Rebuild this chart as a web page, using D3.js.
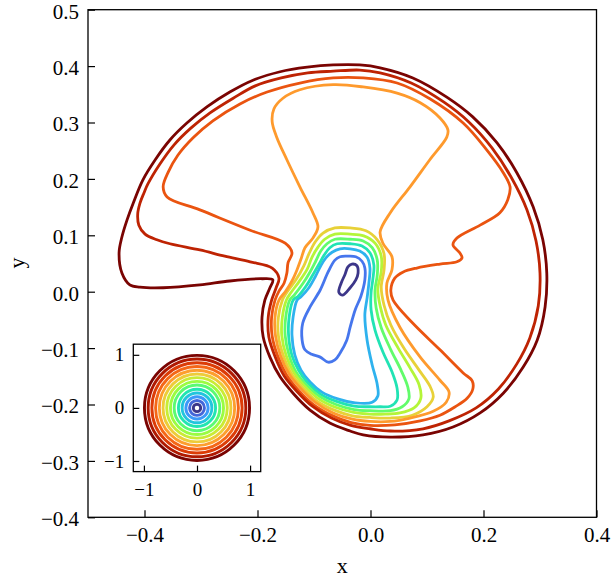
<!DOCTYPE html>
<html>
<head>
<meta charset="utf-8">
<script src="https://cdn.jsdelivr.net/npm/d3@7"></script>
<style>
  body { margin: 0; background: #fff; }
  text { font-family: "Liberation Serif", "Times New Roman", serif; fill: #000; }
</style>
</head>
<body>
<script>
// contour levels (fraction of the colour range), inner -> outer
const mainLevels = [0.05, 0.145, 0.24, 0.335, 0.43, 0.525, 0.62, 0.715, 0.81, 0.905, 1.0];

// contour lines, [x, y] in data units
const lineNavy = [[-0.033,0.049],[-0.024,0.046],[-0.022,0.033],[-0.026,0.021],[-0.036,0.007],[-0.049,-0.006],[-0.056,-0.001],[-0.052,0.015],[-0.045,0.031],[-0.040,0.044]];
const lineBlue = [[-0.042,0.063],[-0.026,0.062],[-0.015,0.054],[-0.010,0.042],[-0.010,0.021],[-0.017,-0.008],[-0.027,-0.032],[-0.036,-0.063],[-0.042,-0.086],[-0.054,-0.109],[-0.063,-0.121],[-0.075,-0.125],[-0.089,-0.116],[-0.104,-0.111],[-0.116,-0.103],[-0.121,-0.086],[-0.120,-0.056],[-0.107,-0.027],[-0.089,0.003],[-0.075,0.035],[-0.063,0.056],[-0.054,0.062]];
const lineCyan = [[-0.054,0.076],[-0.036,0.076],[-0.019,0.072],[-0.006,0.061],[-0.001,0.042],[-0.003,0.014],[-0.006,-0.011],[-0.010,-0.041],[-0.006,-0.086],[0.003,-0.130],[0.012,-0.165],[0.013,-0.185],[0.003,-0.196],[-0.027,-0.197],[-0.058,-0.190],[-0.086,-0.178],[-0.107,-0.160],[-0.123,-0.139],[-0.134,-0.112],[-0.139,-0.077],[-0.137,-0.045],[-0.130,-0.015],[-0.123,-0.009],[-0.109,0.007],[-0.098,0.026],[-0.088,0.046],[-0.079,0.060],[-0.068,0.070]];
const lineTeal = [[-0.059,0.085],[-0.036,0.085],[-0.015,0.081],[-0.001,0.069],[0.006,0.047],[0.004,0.021],[0.001,-0.002],[0.001,-0.032],[0.008,-0.068],[0.022,-0.107],[0.038,-0.142],[0.047,-0.171],[0.047,-0.192],[0.035,-0.203],[0.017,-0.204],[-0.001,-0.204],[-0.029,-0.203],[-0.059,-0.195],[-0.088,-0.182],[-0.111,-0.162],[-0.127,-0.140],[-0.139,-0.113],[-0.145,-0.077],[-0.144,-0.045],[-0.137,-0.015],[-0.128,-0.008],[-0.114,0.010],[-0.102,0.030],[-0.091,0.049],[-0.082,0.065],[-0.072,0.078]];
const lineGreen = [[-0.063,0.093],[-0.036,0.093],[-0.013,0.090],[0.003,0.078],[0.012,0.056],[0.012,0.030],[0.008,0.003],[0.010,-0.029],[0.019,-0.064],[0.036,-0.103],[0.054,-0.139],[0.066,-0.169],[0.068,-0.190],[0.056,-0.204],[0.035,-0.211],[-0.001,-0.211],[-0.029,-0.209],[-0.061,-0.200],[-0.091,-0.185],[-0.114,-0.165],[-0.132,-0.142],[-0.144,-0.113],[-0.151,-0.078],[-0.150,-0.045],[-0.143,-0.015],[-0.135,-0.006],[-0.120,0.014],[-0.107,0.035],[-0.097,0.054],[-0.088,0.072],[-0.077,0.085]];
const lineLime = [[-0.063,0.102],[-0.036,0.102],[-0.012,0.099],[0.008,0.086],[0.019,0.063],[0.019,0.035],[0.013,0.005],[0.017,-0.025],[0.027,-0.059],[0.049,-0.100],[0.070,-0.135],[0.086,-0.165],[0.089,-0.189],[0.077,-0.206],[0.052,-0.215],[0.026,-0.217],[-0.001,-0.217],[-0.030,-0.214],[-0.062,-0.205],[-0.093,-0.189],[-0.117,-0.167],[-0.136,-0.143],[-0.149,-0.114],[-0.157,-0.078],[-0.156,-0.045],[-0.149,-0.015],[-0.141,-0.002],[-0.127,0.017],[-0.112,0.040],[-0.104,0.060],[-0.093,0.079],[-0.081,0.093]];
const lineYellow = [[-0.063,0.113],[-0.036,0.113],[-0.008,0.108],[0.012,0.092],[0.024,0.067],[0.024,0.039],[0.019,0.008],[0.024,-0.024],[0.036,-0.059],[0.059,-0.100],[0.086,-0.139],[0.105,-0.167],[0.111,-0.187],[0.100,-0.204],[0.074,-0.219],[0.035,-0.224],[-0.001,-0.223],[-0.032,-0.220],[-0.064,-0.210],[-0.096,-0.193],[-0.121,-0.169],[-0.140,-0.145],[-0.154,-0.114],[-0.163,-0.078],[-0.163,-0.045],[-0.156,-0.015],[-0.148,-0.001],[-0.132,0.021],[-0.118,0.046],[-0.109,0.067],[-0.098,0.088],[-0.084,0.104]];
const lineGold = [[-0.155,0.343],[-0.125,0.358],[-0.066,0.367],[-0.013,0.363],[0.047,0.352],[0.088,0.335],[0.123,0.308],[0.137,0.287],[0.135,0.274],[0.105,0.234],[0.070,0.186],[0.035,0.140],[0.017,0.106],[0.022,0.086],[0.038,0.062],[0.038,0.039],[0.029,0.015],[0.031,-0.015],[0.052,-0.063],[0.088,-0.116],[0.123,-0.157],[0.139,-0.178],[0.134,-0.196],[0.111,-0.212],[0.070,-0.224],[0.035,-0.230],[-0.001,-0.230],[-0.032,-0.226],[-0.066,-0.215],[-0.098,-0.196],[-0.124,-0.171],[-0.144,-0.146],[-0.159,-0.114],[-0.168,-0.079],[-0.169,-0.045],[-0.162,-0.015],[-0.150,0.001],[-0.139,0.019],[-0.130,0.039],[-0.123,0.058],[-0.116,0.078],[-0.102,0.095],[-0.093,0.115],[-0.102,0.140],[-0.125,0.186],[-0.148,0.234],[-0.166,0.274],[-0.174,0.301],[-0.171,0.324]];
const lineOrange = [[-0.367,0.186],[-0.358,0.212],[-0.341,0.242],[-0.314,0.273],[-0.279,0.303],[-0.231,0.333],[-0.183,0.354],[-0.125,0.370],[-0.066,0.379],[-0.013,0.379],[0.047,0.370],[0.105,0.342],[0.164,0.299],[0.206,0.251],[0.235,0.211],[0.247,0.186],[0.243,0.163],[0.229,0.140],[0.194,0.118],[0.153,0.095],[0.146,0.083],[0.158,0.069],[0.162,0.060],[0.153,0.053],[0.123,0.049],[0.082,0.042],[0.058,0.035],[0.043,0.024],[0.036,0.003],[0.040,-0.015],[0.075,-0.056],[0.123,-0.103],[0.164,-0.144],[0.180,-0.158],[0.181,-0.173],[0.171,-0.189],[0.150,-0.204],[0.123,-0.219],[0.088,-0.229],[0.043,-0.236],[-0.001,-0.237],[-0.034,-0.232],[-0.067,-0.220],[-0.101,-0.200],[-0.128,-0.174],[-0.149,-0.147],[-0.164,-0.115],[-0.174,-0.079],[-0.175,-0.045],[-0.169,-0.015],[-0.162,0.001],[-0.153,0.015],[-0.148,0.033],[-0.146,0.051],[-0.139,0.069],[-0.151,0.086],[-0.213,0.109],[-0.302,0.145],[-0.360,0.168]];
const lineRed = [[-0.174,0.042],[-0.213,0.053],[-0.258,0.063],[-0.302,0.074],[-0.355,0.085],[-0.378,0.092],[-0.399,0.102],[-0.410,0.118],[-0.412,0.138],[-0.408,0.157],[-0.401,0.175],[-0.394,0.191],[-0.373,0.226],[-0.348,0.260],[-0.318,0.290],[-0.284,0.317],[-0.243,0.343],[-0.204,0.365],[-0.158,0.379],[-0.111,0.388],[-0.066,0.391],[-0.019,0.393],[0.017,0.388],[0.072,0.370],[0.130,0.336],[0.174,0.301],[0.215,0.255],[0.249,0.203],[0.277,0.145],[0.293,0.090],[0.300,0.033],[0.297,-0.025],[0.282,-0.082],[0.259,-0.128],[0.226,-0.173],[0.187,-0.206],[0.139,-0.229],[0.093,-0.243],[0.035,-0.247],[-0.001,-0.243],[-0.035,-0.237],[-0.069,-0.224],[-0.103,-0.203],[-0.131,-0.176],[-0.153,-0.149],[-0.169,-0.115],[-0.180,-0.080],[-0.181,-0.045],[-0.175,-0.015],[-0.167,0.007],[-0.162,0.024]];
const lineDarkRed = [[-0.173,0.021],[-0.192,0.023],[-0.249,0.019],[-0.302,0.012],[-0.367,0.007],[-0.408,0.008],[-0.426,0.012],[-0.440,0.033],[-0.445,0.069],[-0.440,0.097],[-0.431,0.127],[-0.420,0.157],[-0.403,0.198],[-0.381,0.234],[-0.355,0.269],[-0.325,0.299],[-0.289,0.328],[-0.249,0.354],[-0.208,0.375],[-0.160,0.390],[-0.112,0.398],[-0.066,0.402],[-0.019,0.402],[0.017,0.397],[0.075,0.379],[0.135,0.345],[0.181,0.310],[0.224,0.264],[0.259,0.211],[0.288,0.150],[0.305,0.092],[0.312,0.033],[0.309,-0.027],[0.295,-0.086],[0.270,-0.134],[0.235,-0.180],[0.194,-0.215],[0.146,-0.240],[0.093,-0.254],[0.035,-0.258],[-0.013,-0.254],[-0.036,-0.247],[-0.072,-0.233],[-0.107,-0.210],[-0.137,-0.180],[-0.160,-0.151],[-0.178,-0.116],[-0.190,-0.080],[-0.192,-0.045],[-0.187,-0.015],[-0.178,0.007]];

// inset: concentric reference circles
const insetRadii = [0.07, 0.14, 0.21, 0.28, 0.35, 0.43, 0.50, 0.57, 0.64, 0.71, 0.78, 0.85, 0.92, 0.99];
const insetLevels = [0.05, 0.12, 0.20, 0.27, 0.34, 0.42, 0.49, 0.56, 0.63, 0.71, 0.78, 0.85, 0.93, 1.0];

// tick values
const xTicks = [-0.4, -0.2, 0.0, 0.2, 0.4];
const yTicks = [-0.4, -0.3, -0.2, -0.1, 0.0, 0.1, 0.2, 0.3, 0.4, 0.5];
const insetTicks = [-1, 0, 1];

const lines = [lineNavy, lineBlue, lineCyan, lineTeal, lineGreen, lineLime, lineYellow, lineGold, lineOrange, lineRed, lineDarkRed];
const contours = lines.map((pts, i) => ({level: mainLevels[i], pts: pts}));

// turbo colour map
const turbo = d3.piecewise(d3.interpolateRgb, ["#30123b","#4145ab","#4675ed","#39a2fc","#1bcfd4","#24eca6","#61fc6c","#a4fc3b","#d1e834","#f3c63a","#fe9b2d","#f36315","#d93806","#b11901","#7a0402"]);

const serif = '"Liberation Serif", "Times New Roman", serif';
const width = 611, height = 580;
const margin = {left: 88, top: 9.7};
const plotW = 508.5, plotH = 507.6;

const svg = d3.select('body').append('svg')
    .attr('width', width)
    .attr('height', height);

const xScale = d3.scaleLinear().domain([-0.5, 0.4]).range([margin.left, margin.left + plotW]);
const yScale = d3.scaleLinear().domain([-0.4, 0.5]).range([margin.top + plotH, margin.top]);

const line = d3.line()
    .x(d => xScale(d[0]))
    .y(d => yScale(d[1]))
    .curve(d3.curveCatmullRomClosed.alpha(0.5));

svg.append('g').selectAll('path')
    .data(contours)
    .enter().append('path')
    .attr('d', d => line(d.pts))
    .attr('fill', 'none')
    .attr('stroke', d => turbo(d.level))
    .attr('stroke-width', 2.8)
    .attr('stroke-linejoin', 'round');

// axes, ticks pointing inward
const fmt1 = d3.format('.1f');
svg.append('g')
    .attr('transform', 'translate(0,' + (margin.top + plotH) + ')')
    .call(d3.axisBottom(xScale).tickValues(xTicks).tickSizeInner(-7).tickSizeOuter(0).tickPadding(10).tickFormat(fmt1))
    .call(g => g.select('.domain').remove())
    .attr('font-size', 21)
    .attr('font-family', serif);

svg.append('g')
    .attr('transform', 'translate(' + margin.left + ',0)')
    .call(d3.axisLeft(yScale).tickValues(yTicks).tickSizeInner(-7).tickSizeOuter(0).tickPadding(9).tickFormat(fmt1))
    .call(g => g.select('.domain').remove())
    .attr('font-size', 21)
    .attr('font-family', serif)
    .call(g => g.selectAll('text').attr('dy', '0.4em'));

svg.selectAll('.tick line').attr('stroke-width', 1.2);

svg.append('rect')
    .attr('x', margin.left).attr('y', margin.top)
    .attr('width', plotW).attr('height', plotH)
    .attr('fill', 'none').attr('stroke', '#000').attr('stroke-width', 1.3);

svg.append('text')
    .attr('x', margin.left + plotW / 2)
    .attr('y', 573)
    .attr('text-anchor', 'middle')
    .attr('font-family', serif)
    .style('font-size', '22px')
    .text('x');

svg.append('text')
    .attr('transform', 'translate(24,263) rotate(-90)')
    .attr('text-anchor', 'middle')
    .attr('font-family', serif)
    .style('font-size', '22px')
    .text('y');

// inset
const inX = d3.scaleLinear().domain([-1.2, 1.2]).range([133.3, 260.7]);
const inY = d3.scaleLinear().domain([-1.2, 1.2]).range([471.6, 344.2]);
const inset = svg.append('g');

inset.append('rect')
    .attr('x', inX(-1.2)).attr('y', inY(1.2))
    .attr('width', inX(1.2) - inX(-1.2)).attr('height', inY(-1.2) - inY(1.2))
    .attr('fill', '#fff');

inset.selectAll('circle')
    .data(insetRadii)
    .enter().append('circle')
    .attr('cx', inX(0))
    .attr('cy', inY(0))
    .attr('r', d => inX(d) - inX(0))
    .attr('fill', 'none')
    .attr('stroke', (d, i) => turbo(insetLevels[i]))
    .attr('stroke-width', 2.9);

const fmt0 = d3.format('d');
inset.append('g')
    .attr('transform', 'translate(0,' + inY(-1.2) + ')')
    .call(d3.axisBottom(inX).tickValues(insetTicks).tickSizeInner(-6).tickSizeOuter(0).tickPadding(11).tickFormat(fmt0))
    .call(g => g.select('.domain').remove())
    .attr('font-size', 19)
    .attr('font-family', serif);

inset.append('g')
    .attr('transform', 'translate(' + inX(-1.2) + ',0)')
    .call(d3.axisLeft(inY).tickValues(insetTicks).tickSizeInner(-6).tickSizeOuter(0).tickPadding(9).tickFormat(fmt0))
    .call(g => g.select('.domain').remove())
    .attr('font-size', 19)
    .attr('font-family', serif);

inset.selectAll('.tick line').attr('stroke-width', 1.2);

inset.append('rect')
    .attr('x', inX(-1.2)).attr('y', inY(1.2))
    .attr('width', inX(1.2) - inX(-1.2)).attr('height', inY(-1.2) - inY(1.2))
    .attr('fill', 'none').attr('stroke', '#000').attr('stroke-width', 1.3);
</script>
</body>
</html>
